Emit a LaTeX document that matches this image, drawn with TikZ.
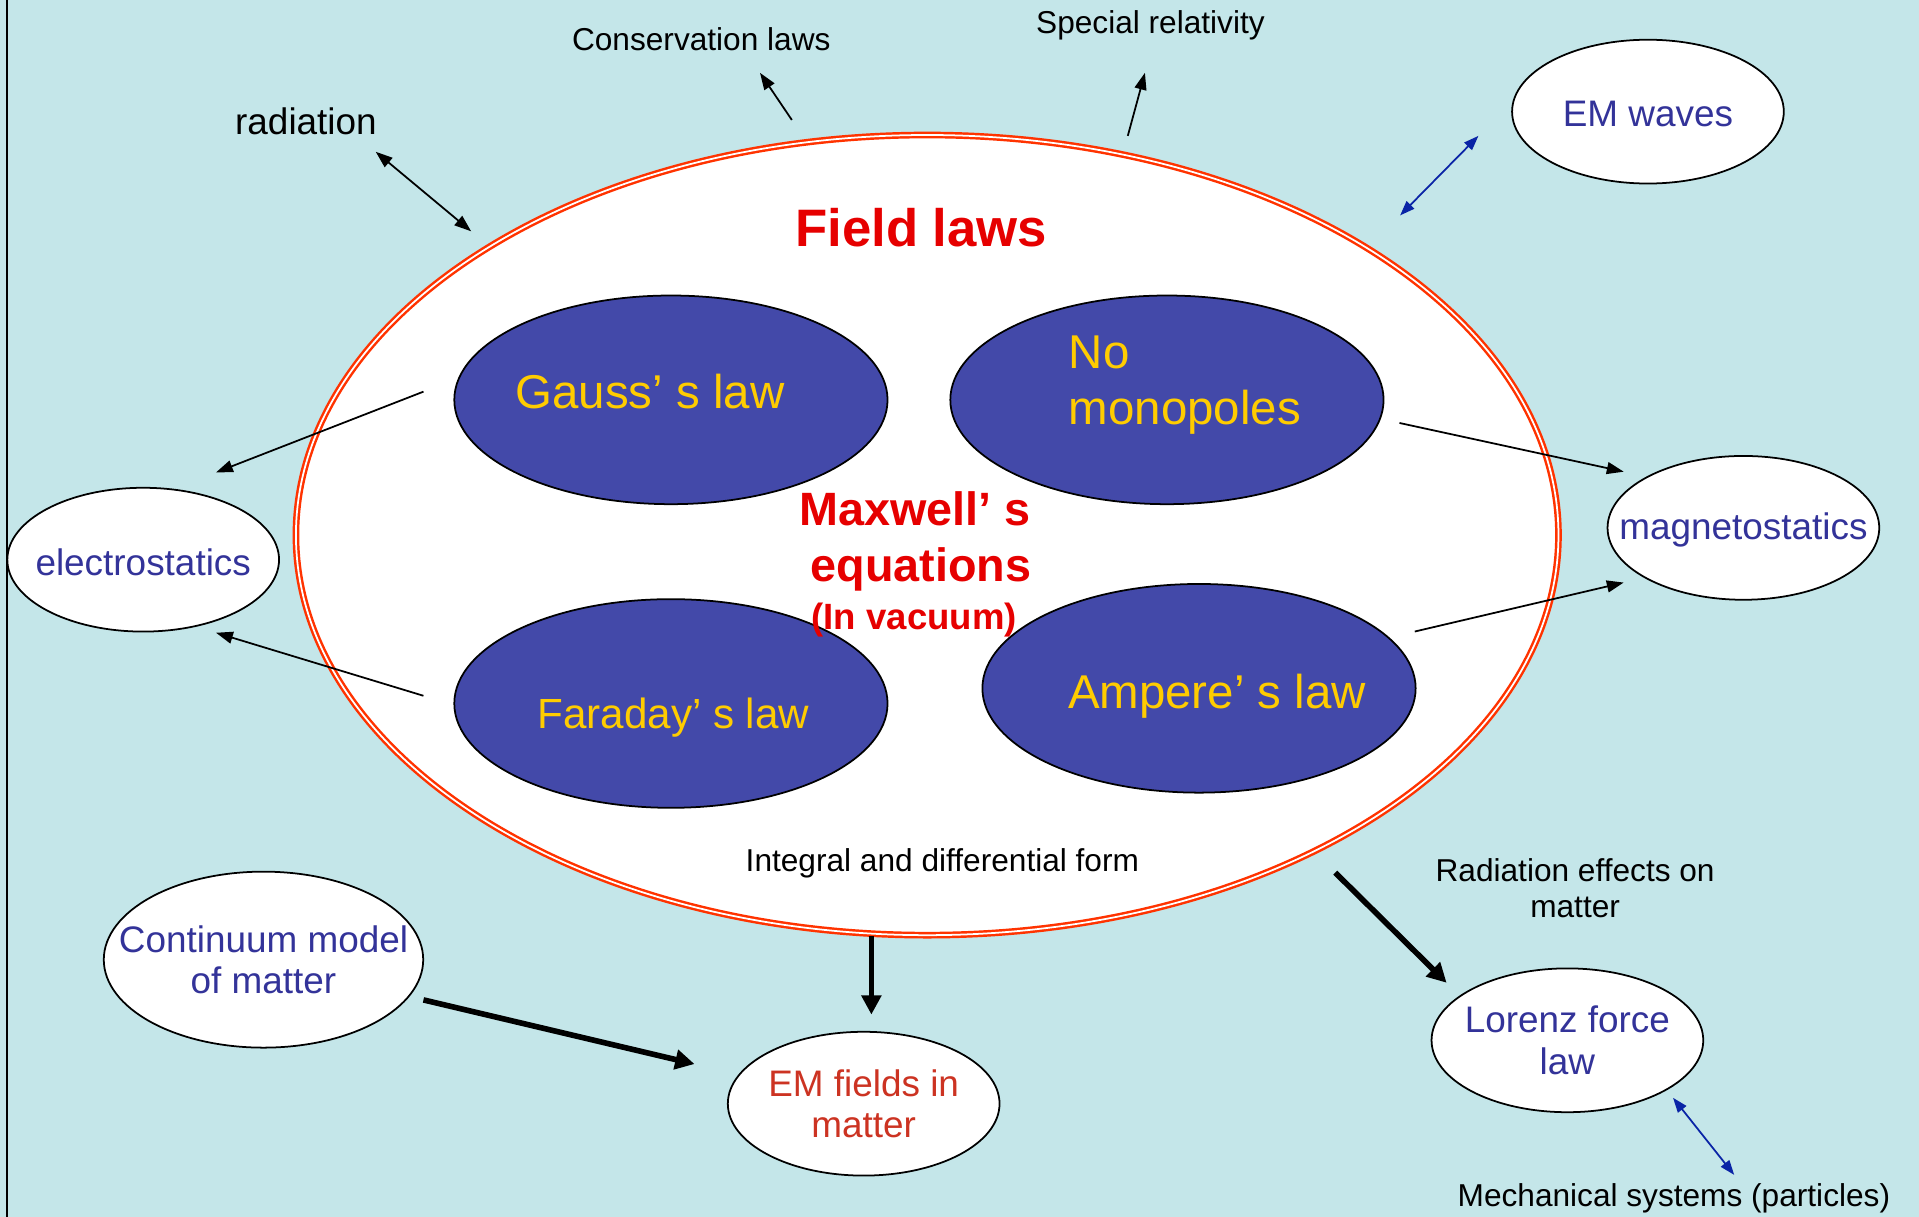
\documentclass[tikz,border=0pt]{standalone}
\usepackage{fontspec}
\setmainfont{Liberation Sans}
\usepackage{xcolor}
\usepackage{tikz}
\usetikzlibrary{arrows.meta,shapes.geometric}
\definecolor{sky}{HTML}{C4E6E9}
\definecolor{navy}{HTML}{333399}
\definecolor{lawblue}{HTML}{4349A9}
\definecolor{gold}{HTML}{FFCC00}
\definecolor{ringred}{HTML}{FF3300}
\definecolor{titlered}{HTML}{E60000}
\definecolor{brick}{HTML}{CC3322}
\definecolor{linkblue}{HTML}{0A24A6}
\newlength\dpx
\setlength\dpx{0.012239cm}
\tikzset{
  ring/.style={ellipse, draw=ringred, double=white, double distance=0.5pt, line width=0.7pt, fill=white, inner sep=0pt},
  law/.style={ellipse, draw=black, line width=0.5pt, fill=lawblue, inner sep=0pt, minimum width=354\dpx, minimum height=170.5\dpx},
  topic/.style={ellipse, draw=black, line width=0.5pt, fill=white, inner sep=0pt, minimum width=222\dpx, minimum height=117.5\dpx},
  topictext/.style={text=navy, align=center, inner sep=0pt, font=\fontsize{10.5}{11.85}\selectfont},
  lawtext/.style={text=gold, anchor=base, inner sep=0pt, font=\fontsize{13.5}{15.7}\selectfont},
  headline/.style={text=titlered, anchor=base, inner sep=0pt, font=\bfseries\fontsize{13.3}{15}\selectfont},
  note/.style={text=black, anchor=base, inner sep=0pt, align=center, font=\fontsize{9}{10.3}\selectfont},
  arr/.style={draw=black, line width=0.5pt, -{Triangle[length=4.8pt,width=3.4pt]}},
  twoway/.style={draw=black, line width=0.5pt, {Triangle[length=4.8pt,width=3.4pt]}-{Triangle[length=4.8pt,width=3.4pt]}},
  bluelink/.style={draw=linkblue, line width=0.5pt, {Triangle[length=4.2pt,width=3pt]}-{Triangle[length=4.2pt,width=3pt]}},
  heavy/.style={draw=black, line width=1.6pt, -{Triangle[length=5.5pt,width=5.5pt]}},
}

\begin{document}
\begin{tikzpicture}[x=0.012239cm, y=-0.012239cm]
  \useasboundingbox (0,0) rectangle (1568,994);
  \fill[sky] (0,0) rectangle (1568,994);
  \draw[black, line width=0.5pt] (6,0) -- (6,994);

  \node[ring, minimum width=1031.6\dpx, minimum height=653.8\dpx] (maxwell) at (757.6,437.2) {};
  \node[law] (gauss) at (548.2,326.7) {};
  \node[law] (mono) at (953.5,326.7) {};
  \node[law] (faraday) at (548.2,574.8) {};
  \node[law] (ampere) at (979.7,562.4) {};

  \node[lawtext] (gausst) at (531,333.4) {Gauss’ s law};
  \node[lawtext, font=\fontsize{12}{14}\selectfont] (faradayt) at (550.2,595) {Faraday’ s law};
  \node[lawtext] (amperet) at (994.4,578.5) {Ampere’ s law};
  \node[lawtext, anchor=west, align=left] (monot) at (872.7,314.6) {No\\monopoles};

  \node[headline, font=\bfseries\fontsize{15}{18}\selectfont] (fieldlaws) at (752.8,201.5) {Field laws};
  \node[headline] (maxw) at (747.7,429) {Maxwell’ s};
  \node[headline] (eqns) at (752.4,474.8) {equations};
  \node[headline, font=\bfseries\fontsize{10.4}{12}\selectfont] (vacuum) at (747,514) {(In vacuum)};

  \node[topic] (waves) at (1346.5,91.2) {};
  \node[topic] (estat) at (117,457.3) {};
  \node[topic] (mstat) at (1424.5,431.3) {};
  \node[topic, minimum width=261\dpx, minimum height=143.8\dpx] (continuum) at (215.3,784.1) {};
  \node[topic] (matter) at (705.7,901.8) {};
  \node[topic] (lorenz) at (1280.7,850) {};
  \node[topictext, yshift=-0.7pt] (wavest) at (waves) {EM waves};
  \node[topictext, yshift=-0.7pt] (estatt) at (estat) {electrostatics};
  \node[topictext, yshift=-0.7pt] (mstatt) at (mstat) {magnetostatics};
  \node[topictext] (continuumt) at (continuum) {Continuum model\\of matter};
  \node[topictext, text=brick] (mattert) at (matter) {EM fields in\\matter};
  \node[topictext] (lorenzt) at (lorenz) {Lorenz force\\law};

  \node[note] (cons) at (573,41) {Conservation laws};
  \node[note] (rel) at (940,27) {Special relativity};
  \node[note, font=\fontsize{10.5}{12}\selectfont] (rad) at (250,110) {radiation};
  \node[note] (form) at (770,712.2) {Integral and differential form};
  \node[note, anchor=center] (effects) at (1287,725.8) {Radiation effects on\\matter};
  \node[note] (mech) at (1367.7,986) {Mechanical systems (particles)};

  \coordinate (radA) at (307,124);
  \coordinate (radB) at (385,189);
  \coordinate (consA) at (647,98);
  \coordinate (consB) at (621,59.5);
  \coordinate (relA) at (921.5,111);
  \coordinate (relB) at (935.5,59.5);
  \coordinate (wavA) at (1144,176);
  \coordinate (wavB) at (1208,111);
  \coordinate (gaussA) at (346,320);
  \coordinate (estA) at (176.5,386);
  \coordinate (faradayA) at (346,568.5);
  \coordinate (estB) at (176.5,517);
  \coordinate (monoA) at (1143.5,345.6);
  \coordinate (mstA) at (1326.7,385.4);
  \coordinate (ampereA) at (1156,516);
  \coordinate (mstB) at (1326.7,476);
  \coordinate (ringS) at (712,765);
  \coordinate (matterA) at (712,829);
  \coordinate (contA) at (346,817);
  \coordinate (matterB) at (567.5,869.4);
  \coordinate (ringSE) at (1091,713);
  \coordinate (lorenzA) at (1182,803);
  \coordinate (lorenzB) at (1367,897);
  \coordinate (mechA) at (1417,960);

  \foreach \s/\t in {consA/consB, relA/relB, gaussA/estA, faradayA/estB, monoA/mstA, ampereA/mstB}
    \draw[arr] (\s) -- (\t);
  \foreach \s/\t in {ringS/matterA, contA/matterB, ringSE/lorenzA}
    \draw[heavy] (\s) -- (\t);
  \draw[twoway] (radA) -- (radB);
  \draw[bluelink] (wavA) -- (wavB);
  \draw[bluelink] (lorenzB) -- (mechA);
\end{tikzpicture}
\end{document}
